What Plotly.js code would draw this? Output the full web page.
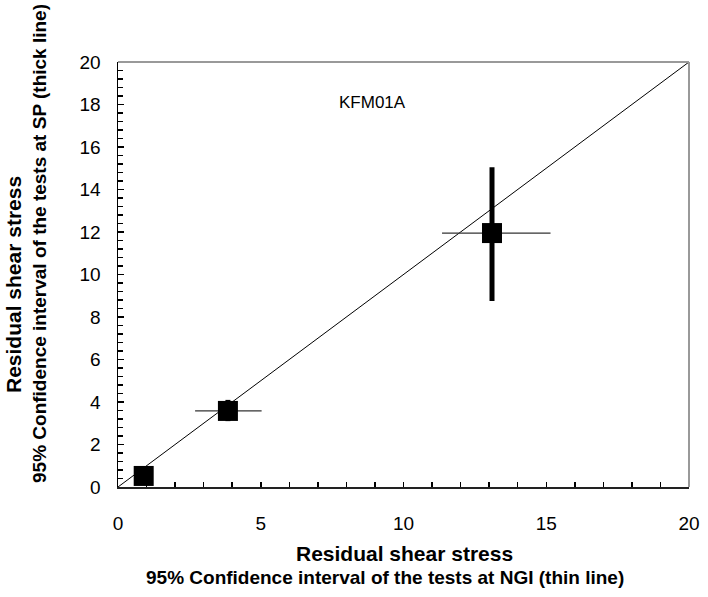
<!DOCTYPE html>
<html><head><meta charset="utf-8">
<script src="https://cdn.plot.ly/plotly-3.0.1.min.js"></script>
<style>body{margin:0;background:#fff}#chart{width:708px;height:597px}</style>
</head><body><div id="chart"></div>
<script>
// Data
const ngiMean = [0.9, 3.85, 13.1];
const ngiLow = [0.8, 2.7, 11.35];
const ngiHigh = [1.0, 5.03, 15.15];
const spMean = [0.52, 3.58, 11.95];
const spLow = [0.4, 3.1, 8.75];
const spHigh = [0.65, 4.1, 15.05];
const lineX = [0, 20];
const lineY = [0, 20];
const annotationText = 'KFM01A';
const xTitle1 = 'Residual shear stress';
const xTitle2 = '95% Confidence interval of the tests at NGI (thin line)';
const yTitle1 = 'Residual shear stress';
const yTitle2 = '95% Confidence interval of the tests at SP (thick line)';

const traces = [
  {x: lineX, y: lineY, mode: 'lines', line: {color: '#000', width: 1}, hoverinfo: 'skip', showlegend: false},
  {x: ngiMean, y: spMean, mode: 'markers', type: 'scatter', showlegend: false,
   marker: {symbol: 'square', size: 20, color: '#000'},
   error_x: {type: 'data', symmetric: false,
     array: ngiHigh.map((v, i) => v - ngiMean[i]),
     arrayminus: ngiMean.map((v, i) => v - ngiLow[i]),
     thickness: 1.2, width: 0, color: '#333'},
   error_y: {type: 'data', symmetric: false,
     array: spHigh.map((v, i) => v - spMean[i]),
     arrayminus: spMean.map((v, i) => v - spLow[i]),
     thickness: 5, width: 0, color: '#000'}
  }
];

const FAM = 'Liberation Sans, Arial, sans-serif';
const tickFont = {family: FAM, size: 19, color: '#000'};
const titleFont1 = {family: FAM, size: 21, color: '#000', weight: 'bold'};
const titleFont2 = {family: FAM, size: 19, color: '#000', weight: 'bold'};

const layout = {
  width: 708, height: 597,
  margin: {l: 118, r: 19, t: 62, b: 110},
  paper_bgcolor: '#fff', plot_bgcolor: '#fff',
  showlegend: false,
  xaxis: {range: [0, 20], dtick: 5, tick0: 0, showgrid: false, zeroline: false,
    showline: true, linecolor: '#222', linewidth: 2,
    ticks: 'inside', ticklen: 5, tickcolor: '#000', tickwidth: 1.5,
    minor: {dtick: 1, ticks: 'inside', ticklen: 5, tickcolor: '#000', tickwidth: 1.5, showgrid: false},
    tickfont: tickFont, ticklabelstandoff: 18
  },
  yaxis: {range: [0, 20], dtick: 2, tick0: 0, showgrid: false, zeroline: false,
    showline: true, linecolor: '#000', linewidth: 1.5,
    ticks: 'inside', ticklen: 6, tickcolor: '#000', tickwidth: 1.5,
    minor: {dtick: 0.4, ticks: 'inside', ticklen: 5, tickcolor: '#000', tickwidth: 1.5, showgrid: false},
    tickfont: tickFont, ticklabelstandoff: 12
  },
  shapes: [
    {type: 'line', xref: 'paper', yref: 'paper', x0: 0, x1: 1, y0: 1, y1: 1, line: {color: '#999', width: 2}},
    {type: 'line', xref: 'paper', yref: 'paper', x0: 1, x1: 1, y0: 0, y1: 1, line: {color: '#999', width: 2}}
  ],
  annotations: [
    {x: 8.9, y: 18.1, xref: 'x', yref: 'y', text: annotationText, showarrow: false,
     font: {family: FAM, size: 17, color: '#000'}},
    {x: 0.5026, y: -0.1553, xref: 'paper', yref: 'paper', text: '<b>' + xTitle1 + '</b>', showarrow: false,
     xanchor: 'center', yanchor: 'middle', font: titleFont1},
    {x: 0.4676, y: -0.2118, xref: 'paper', yref: 'paper', text: '<b>' + xTitle2 + '</b>', showarrow: false,
     xanchor: 'center', yanchor: 'middle', font: titleFont2},
    {x: -0.1821, y: 0.4753, xref: 'paper', yref: 'paper', text: '<b>' + yTitle1 + '</b>', showarrow: false,
     textangle: -90, xanchor: 'center', yanchor: 'middle', font: titleFont1},
    {x: -0.1366, y: 0.5718, xref: 'paper', yref: 'paper', text: '<b>' + yTitle2 + '</b>', showarrow: false,
     textangle: -90, xanchor: 'center', yanchor: 'middle', font: titleFont2}
  ]
};

Plotly.newPlot('chart', traces, layout, {displayModeBar: false, staticPlot: true});
</script>
</body></html>
